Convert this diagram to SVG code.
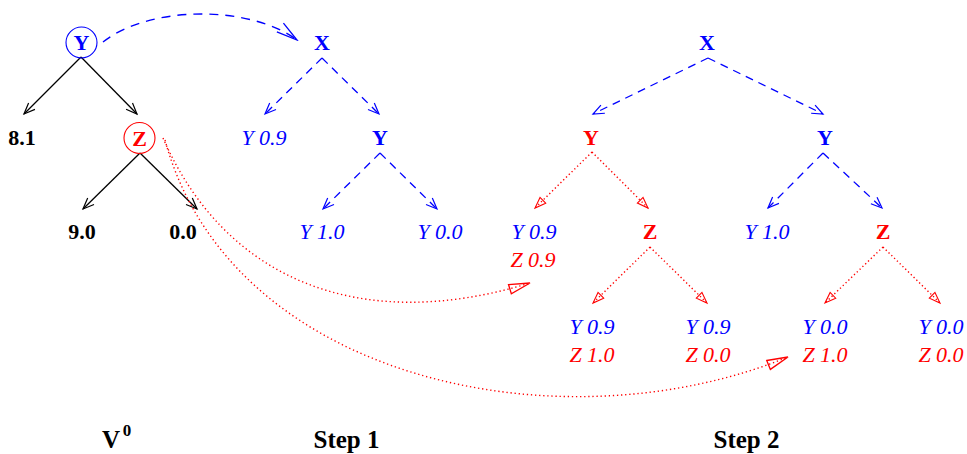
<svg xmlns="http://www.w3.org/2000/svg" width="967" height="454" viewBox="0 0 967 454">
<style>
text{font-family:"Liberation Serif","Times New Roman",serif;text-anchor:middle;font-size:22px}
.b{font-weight:bold}
.i{font-style:italic}
.bl{fill:#0000ff}
.rd{fill:#ff0000}
.k{fill:#000}
.lk{stroke:#000;stroke-width:1.3;fill:none;marker-end:url(#vk)}
.lb{stroke:#0000ff;stroke-width:1.3;fill:none;stroke-dasharray:8 6;marker-end:url(#vb)}
.lr{stroke:#ff0000;stroke-width:1.4;fill:none;stroke-dasharray:1.3 2.6;marker-end:url(#tr)}
.cb{stroke:#0000ff;stroke-width:1.4;fill:none;stroke-dasharray:9 7;marker-end:url(#vbig)}
.cr{stroke:#ff0000;stroke-width:1.4;fill:none;stroke-dasharray:1.3 2.8;marker-end:url(#trbig)}
</style>
<defs>
<marker id="vk" viewBox="-13 -7 15 14" markerWidth="15" markerHeight="14" refX="0" refY="0" orient="auto" markerUnits="userSpaceOnUse"><path d="M-11,-4.5 L0,0 L-11,4.5" fill="none" stroke="#000" stroke-width="1.2"/></marker>
<marker id="vb" viewBox="-13 -7 15 14" markerWidth="15" markerHeight="14" refX="0" refY="0" orient="auto" markerUnits="userSpaceOnUse"><path d="M-11,-4.5 L0,0 L-11,4.5" fill="none" stroke="#0000ff" stroke-width="1.2"/></marker>
<marker id="tr" viewBox="-13 -7 15 14" markerWidth="15" markerHeight="14" refX="0" refY="0" orient="auto" markerUnits="userSpaceOnUse"><path d="M-11,-4 L0,0 L-11,4 Z" fill="none" stroke="#ff0000" stroke-width="1.1"/></marker>
<marker id="vbig" viewBox="-24 -8 26 16" markerWidth="26" markerHeight="16" refX="0" refY="0" orient="auto" markerUnits="userSpaceOnUse"><path d="M-21,-5.5 L0,0 L-21,5.5" fill="none" stroke="#0000ff" stroke-width="1.3"/></marker>
<marker id="trbig" viewBox="-24 -8 26 16" markerWidth="26" markerHeight="16" refX="0" refY="0" orient="auto" markerUnits="userSpaceOnUse"><path d="M-21,-4.8 L0,0 L-21,4.8 Z" fill="none" stroke="#ff0000" stroke-width="1.3"/></marker>
</defs>

<g id="connectors">
<line class="lk" x1="81" y1="57" x2="24" y2="114"/>
<line class="lk" x1="81" y1="57" x2="137" y2="114"/>
<line class="lk" x1="140" y1="153" x2="83" y2="209"/>
<line class="lk" x1="140" y1="153" x2="197" y2="209"/>
<line class="lb" x1="322" y1="58" x2="265" y2="114"/>
<line class="lb" x1="322" y1="58" x2="379" y2="114"/>
<line class="lb" x1="380" y1="153" x2="323" y2="209"/>
<line class="lb" x1="380" y1="153" x2="437" y2="209"/>
<line class="lb" x1="708" y1="58" x2="593" y2="114"/>
<line class="lb" x1="708" y1="58" x2="823" y2="114"/>
<line class="lr" x1="592" y1="152" x2="535" y2="208"/>
<line class="lr" x1="592" y1="152" x2="648" y2="208"/>
<line class="lr" x1="650" y1="247" x2="593" y2="303"/>
<line class="lr" x1="650" y1="247" x2="707" y2="303"/>
<line class="lb" x1="823" y1="153" x2="768" y2="208"/>
<line class="lb" x1="823" y1="153" x2="882" y2="208"/>
<line class="lr" x1="883" y1="247" x2="825" y2="303"/>
<line class="lr" x1="883" y1="247" x2="940" y2="303"/>
<path class="cb" d="M103,42 C150,5 250,5 297,40"/>
<path class="cr" d="M163,138 C225,280 360,335 530,283"/>
<path class="cr" d="M165,140 C230,380 560,450 788,357"/>
</g>

<g id="v0-Y"><circle cx="81.5" cy="42.5" r="15.5" fill="none" stroke="#0000ff" stroke-width="1.1"/><text x="81.5" y="50" class="b bl">Y</text></g>
<g id="v0-81"><text x="22" y="145" class="b k">8.1</text></g>
<g id="v0-Z"><circle cx="139.5" cy="138" r="15.5" fill="none" stroke="#ff0000" stroke-width="1.1"/><text x="139.5" y="146" class="b rd">Z</text></g>
<g id="v0-90"><text x="82" y="239" class="b k">9.0</text></g>
<g id="v0-00"><text x="183" y="239" class="b k">0.0</text></g>

<g id="s1-X"><text x="322" y="50" class="b bl">X</text></g>
<g id="s1-Y09"><text x="264" y="145" class="i bl">Y 0.9</text></g>
<g id="s1-Y"><text x="380" y="145" class="b bl">Y</text></g>
<g id="s1-Y10"><text x="322" y="239" class="i bl">Y 1.0</text></g>
<g id="s1-Y00"><text x="440" y="239" class="i bl">Y 0.0</text></g>

<g id="s2-X"><text x="707" y="50" class="b bl">X</text></g>
<g id="s2-Yr"><text x="591" y="145" class="b rd">Y</text></g>
<g id="s2-Yb"><text x="825" y="145" class="b bl">Y</text></g>
<g id="s2-L1"><text x="534" y="239" class="i bl">Y 0.9</text><text x="533" y="267" class="i rd">Z 0.9</text></g>
<g id="s2-Z1"><text x="650" y="239" class="b rd">Z</text></g>
<g id="s2-L2"><text x="592" y="334" class="i bl">Y 0.9</text><text x="592" y="362" class="i rd">Z 1.0</text></g>
<g id="s2-L3"><text x="708" y="334" class="i bl">Y 0.9</text><text x="708" y="362" class="i rd">Z 0.0</text></g>
<g id="s2-Y10"><text x="767" y="239" class="i bl">Y 1.0</text></g>
<g id="s2-Z2"><text x="883" y="239" class="b rd">Z</text></g>
<g id="s2-L4"><text x="825" y="334" class="i bl">Y 0.0</text><text x="825" y="362" class="i rd">Z 1.0</text></g>
<g id="s2-L5"><text x="941" y="334" class="i bl">Y 0.0</text><text x="941" y="362" class="i rd">Z 0.0</text></g>

<g id="labels">
<text x="111" y="448" class="b k" style="font-size:25px">V</text>
<text x="127" y="436" class="b k" style="font-size:17px">0</text>
<text x="346.5" y="448" class="b k" style="font-size:25px">Step 1</text>
<text x="746.5" y="448" class="b k" style="font-size:25px">Step 2</text>
</g>
</svg>
